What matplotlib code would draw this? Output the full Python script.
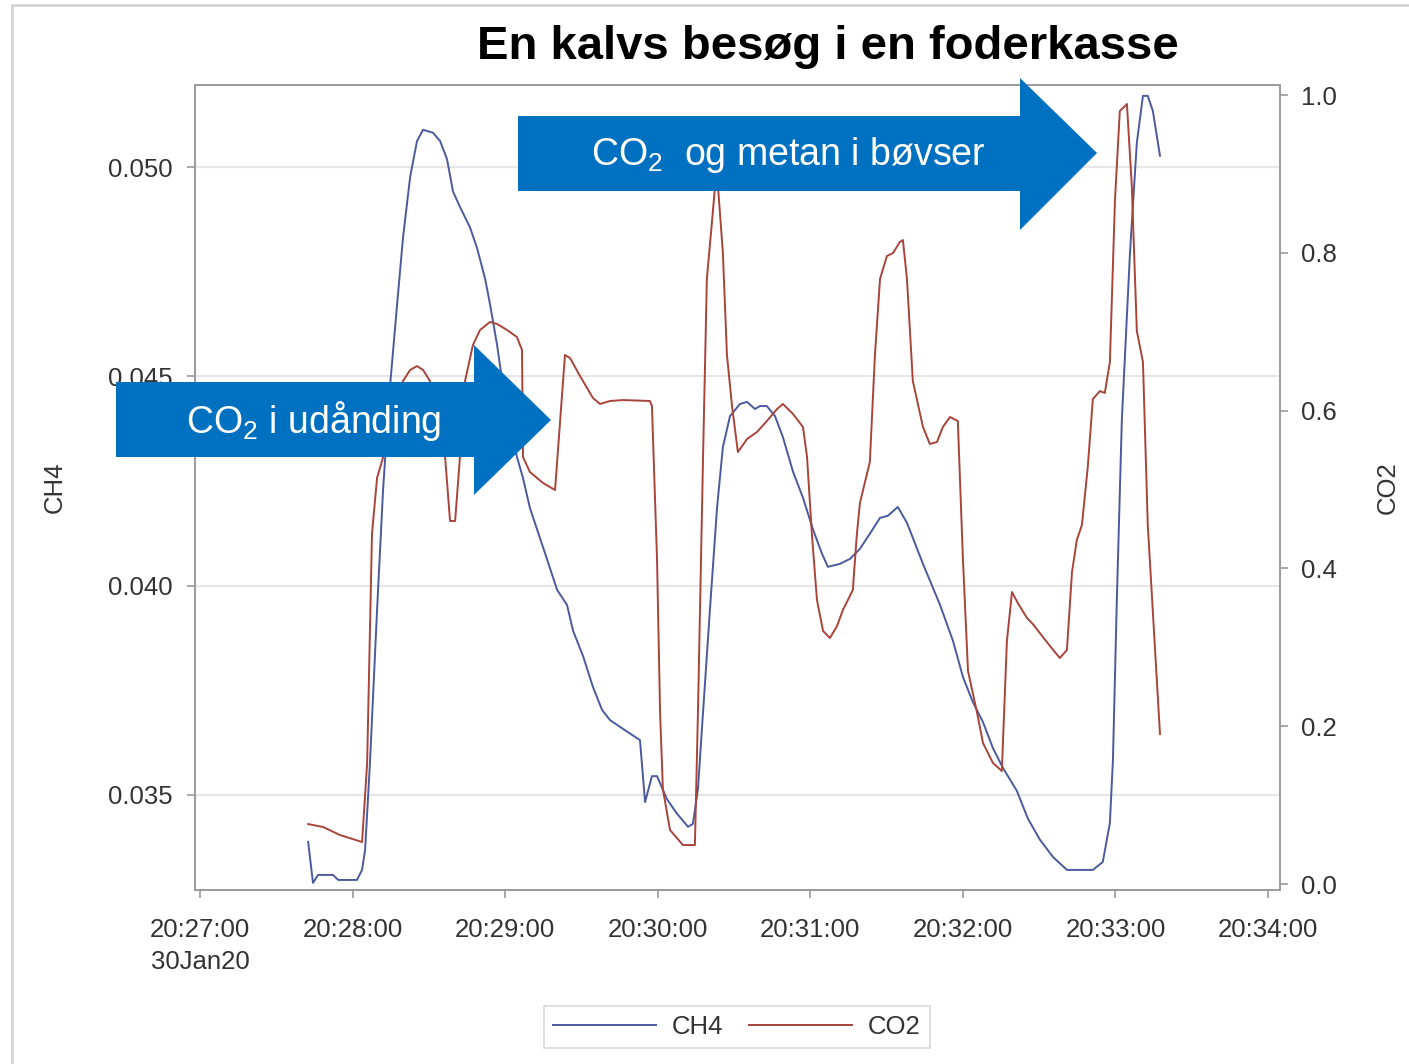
import numpy as np
import matplotlib
matplotlib.use('Agg')
import matplotlib.pyplot as plt
from matplotlib.patches import Polygon, Rectangle

plt.rcParams['font.family'] = ['Liberation Sans', 'DejaVu Sans']
plt.rcParams['mathtext.fontset'] = 'custom'
plt.rcParams['mathtext.rm'] = 'Liberation Sans'
plt.rcParams['mathtext.default'] = 'regular'

# seconds after 20:27:00 (30Jan20)
ch4_t = [42.5, 44.4, 46.4, 52.3, 54.3, 61.7, 63.7, 64.9, 66.8, 69.6, 72.0, 74.7, 77.5, 79.8,
         82.6, 85.3, 87.7, 91.6, 94.4, 97.1, 99.5, 102.2, 106.2, 108.9, 112.1, 114.0, 116.8,
         119.1, 121.9, 124.6, 127.0, 129.7, 132.5, 136.4, 140.4, 144.3, 146.7, 150.6, 154.5,
         158.1, 161.2, 166.3, 173.0, 175.0, 177.7, 179.7, 183.6, 187.6, 191.9, 193.8, 195.8,
         197.8, 200.5, 203.3, 205.6, 208.4, 212.3, 215.1, 218.2, 220.2, 222.9, 226.1, 229.2,
         233.2, 237.1, 241.0, 244.6, 246.9, 251.6, 255.6, 259.5, 263.4, 267.4, 270.5, 274.4,
         278.0, 284.3, 291.0, 296.1, 300.0, 303.9, 307.9, 311.8, 315.7, 321.2, 325.6, 330.3,
         335.4, 340.9, 351.1, 355.0, 357.8, 359.0, 360.5, 362.5, 365.7, 368.4, 370.8, 372.7,
         374.7, 377.5]
ch4 = [0.03388, 0.03290, 0.03309, 0.03309, 0.03297, 0.03297, 0.03321, 0.03369, 0.03576,
       0.03942, 0.04233, 0.04477, 0.04673, 0.04831, 0.04976, 0.05062, 0.05089, 0.05082,
       0.05062, 0.05019, 0.04941, 0.04905, 0.04855, 0.04807, 0.04733, 0.04673, 0.04575,
       0.04477, 0.04379, 0.04308, 0.04257, 0.04186, 0.04135, 0.04064, 0.03990, 0.03954,
       0.03892, 0.03832, 0.03758, 0.03703, 0.03679, 0.03658, 0.03631, 0.03483, 0.03545,
       0.03545, 0.03490, 0.03455, 0.03424, 0.03431, 0.03514, 0.03698, 0.03942, 0.04186,
       0.04331, 0.04405, 0.04434, 0.04439, 0.04422, 0.04429, 0.04429, 0.04405, 0.04355,
       0.04272, 0.04210, 0.04135, 0.04076, 0.04045, 0.04052, 0.04064, 0.04088, 0.04124,
       0.04162, 0.04167, 0.04188, 0.04150, 0.04052, 0.03954, 0.03868, 0.03782, 0.03722,
       0.03674, 0.03612, 0.03565, 0.03510, 0.03443, 0.03393, 0.03352, 0.03321, 0.03321,
       0.03340, 0.03433, 0.03584, 0.03959, 0.04396, 0.04795, 0.05058, 0.05170, 0.05170,
       0.05134, 0.05027]

co2_t = [42.5, 48.4, 55.0, 63.7, 65.7, 67.6, 69.6, 72.0, 74.7, 79.8, 82.6, 85.3, 87.7, 90.4,
         96.3, 98.3, 100.3, 102.2, 104.2, 107.3, 110.1, 114.0, 116.8, 120.7, 124.6, 126.6,
         127.0, 129.7, 134.9, 139.6, 143.5, 145.5, 149.4, 154.5, 157.3, 161.2, 166.3, 176.9,
         177.7, 179.7, 180.9, 182.0, 184.8, 189.9, 194.6, 195.8, 197.8, 199.3, 201.3, 202.5,
         203.7, 205.6, 207.2, 209.2, 211.5, 215.1, 219.0, 222.9, 226.9, 229.2, 233.2, 237.1,
         238.7, 240.6, 242.6, 245.0, 247.7, 250.5, 252.8, 256.7, 258.3, 259.5, 263.4, 265.4,
         267.4, 270.1, 272.5, 275.2, 276.4, 278.0, 280.3, 284.3, 287.0, 289.8, 292.1, 294.9,
         298.0, 300.0, 302.0, 305.5, 307.9, 311.8, 315.3, 317.3, 319.3, 321.6, 325.2, 327.5,
         333.0, 338.1, 340.9, 342.9, 344.8, 346.8, 349.1, 351.1, 353.9, 355.8, 357.8, 359.8,
         361.7, 364.5, 366.4, 368.4, 370.8, 372.7, 377.5]
co2 = [0.0760, 0.0722, 0.0621, 0.0532, 0.1534, 0.4436, 0.5146, 0.5412, 0.6058, 0.6375, 0.6515,
       0.6565, 0.6515, 0.6375, 0.5437, 0.4601, 0.4601, 0.5412, 0.6375, 0.6831, 0.7022, 0.7123,
       0.7098, 0.7022, 0.6933, 0.6768, 0.5412, 0.5222, 0.5082, 0.4994, 0.6705, 0.6667, 0.6439,
       0.6160, 0.6084, 0.6122, 0.6134, 0.6122, 0.6058, 0.4119, 0.2180, 0.1204, 0.0684, 0.0494,
       0.0494, 0.2180, 0.5412, 0.7668, 0.8390, 0.8834, 0.8834, 0.7997, 0.6705, 0.6058, 0.5475,
       0.5640, 0.5729, 0.5868, 0.6020, 0.6084, 0.5957, 0.5792, 0.5412, 0.4436, 0.3600, 0.3207,
       0.3118, 0.3270, 0.3473, 0.3726, 0.4436, 0.4829, 0.5349, 0.6705, 0.7668, 0.7959, 0.7997,
       0.8137, 0.8162, 0.7668, 0.6375, 0.5792, 0.5577, 0.5602, 0.5792, 0.5919, 0.5868, 0.4119,
       0.2700, 0.2180, 0.1787, 0.1534, 0.1432, 0.3080, 0.3701, 0.3561, 0.3371, 0.3295, 0.3067,
       0.2864, 0.2966, 0.3954, 0.4360, 0.4550, 0.5285, 0.6147, 0.6248, 0.6223, 0.6616, 0.8669,
       0.9797, 0.9886, 0.8859, 0.7009, 0.6616, 0.4550, 0.1901]

x_ticks = [0, 60, 120, 180, 240, 300, 360, 420]
x_labels = ['20:27:00\n30Jan20', '20:28:00', '20:29:00', '20:30:00', '20:31:00',
            '20:32:00', '20:33:00', '20:34:00']
ch4_ticks = [0.035, 0.040, 0.045, 0.050]
co2_ticks = [0.0, 0.2, 0.4, 0.6, 0.8, 1.0]

W, H = 1409, 1064
fig = plt.figure(figsize=(W / 100, H / 100), dpi=100)

def fx(px):
    return px / W

def fy(py):
    return 1 - py / H

ax = fig.add_axes([fx(195), fy(890), fx(1280) - fx(195), fy(85) - fy(890)])
ax2 = ax.twinx()

blue = '#4a5a9c'
red = '#a8443a'
tc = '#333333'
axc = '#9a9a9a'

l1, = ax.plot(ch4_t, ch4, color=blue, lw=1.4, label='CH4')
l2, = ax2.plot(co2_t, co2, color=red, lw=1.4, label='CO2')

ax.set_xlim(-2, 424.7)
ax.set_ylim(0.03273, 0.05196)
ax2.set_ylim(-0.0076, 1.0127)

ax.set_xticks(x_ticks)
ax.set_xticklabels(x_labels, linespacing=1.45)
ax.set_yticks(ch4_ticks)
ax.set_yticklabels(['%.3f' % v for v in ch4_ticks])
ax2.set_yticks(co2_ticks)
ax2.set_yticklabels(['%.1f' % v for v in co2_ticks])

ax.grid(axis='y', color='#e6e6e6', lw=1.5)
ax.set_axisbelow(True)

for a in (ax, ax2):
    for s in a.spines.values():
        s.set_color(axc)
        s.set_linewidth(1.2)
    a.tick_params(colors=axc, labelcolor=tc, labelsize=18.5, length=6, width=1.2)
ax.tick_params(axis='x', pad=14)
ax.tick_params(axis='y', pad=10)
ax2.tick_params(axis='y', pad=9)

ax.set_ylabel('CH4', fontsize=18.5, color=tc, labelpad=30)
ax2.set_ylabel('CO2', fontsize=18.5, color=tc, labelpad=28)

# figure border
fig.patches.append(Rectangle((fx(12), fy(H + 10)), 1.2, fy(5) - fy(H + 10), transform=fig.transFigure,
                             fill=False, edgecolor='#d4d4d4', lw=2))

fig.text(fx(828), fy(47), 'En kalvs besøg i en foderkasse', ha='center', va='center',
         fontsize=34, fontweight='bold', color='black')

arrow_c = '#0070c0'

def arrow(x0, x1, xt, yt, yb, yht, yhb, ytip):
    pts = [(x0, yt), (x1, yt), (x1, yht), (xt, ytip), (x1, yhb), (x1, yb), (x0, yb)]
    fig.patches.append(Polygon([(fx(a), fy(b)) for a, b in pts], closed=True,
                               transform=fig.transFigure, facecolor=arrow_c,
                               edgecolor='none', zorder=5))

arrow(518, 1020, 1097, 116, 191, 78, 230, 153)
arrow(116, 474, 551, 382, 457, 345, 495, 420)

fig.text(fx(788), fy(155), 'CO$_2$  og metan i bøvser', ha='center', va='center',
         fontsize=27, color='white', zorder=6)
fig.text(fx(314), fy(421), 'CO$_2$ i udånding', ha='center', va='center',
         fontsize=27, color='white', zorder=6)

leg = fig.legend([l1, l2], ['CH4', 'CO2'], loc='center', bbox_to_anchor=(fx(737), fy(1027)),
                 ncol=2, fontsize=18.5, frameon=True, fancybox=False, handlelength=4.0,
                 columnspacing=1.0, handletextpad=0.62, borderpad=0.35, borderaxespad=0)
leg.get_frame().set_edgecolor('#d0d0d0')
leg.get_frame().set_linewidth(1.2)
for t in leg.get_texts():
    t.set_color(tc)

fig.savefig('out.png', dpi=100)
